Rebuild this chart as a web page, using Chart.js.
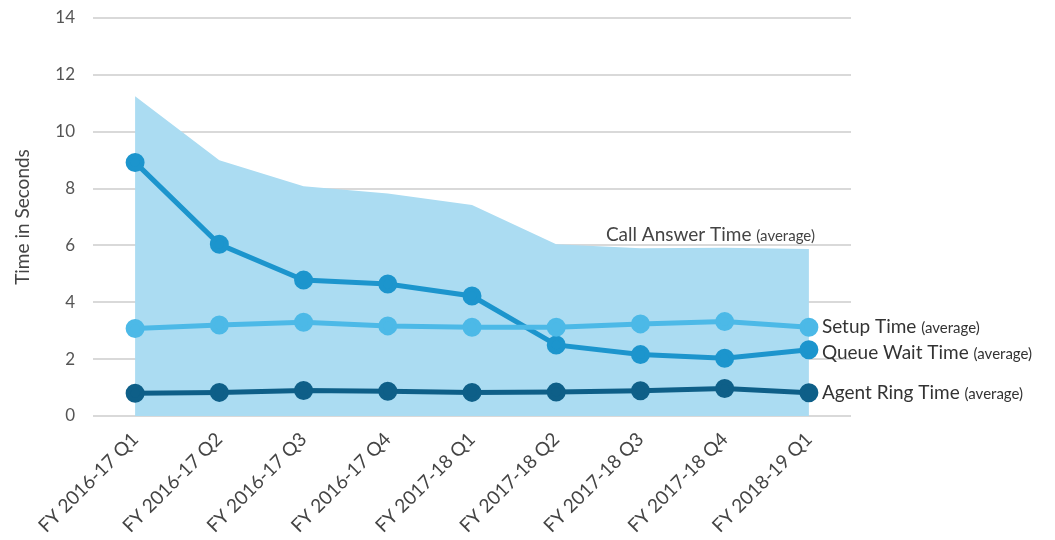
<!DOCTYPE html>
<html>
<head>
<meta charset="utf-8">
<script src="https://cdn.jsdelivr.net/npm/chart.js@4"></script>
<style>
  html, body { margin: 0; padding: 0; background: #fff; }
  #wrap { width: 1055px; height: 540px; }
</style>
</head>
<body>
<div id="wrap"><canvas id="myChart" width="1055" height="540"></canvas></div>
<script>
// quarters on the x axis
const quarters = ['FY 2016-17 Q1', 'FY 2016-17 Q2', 'FY 2016-17 Q3', 'FY 2016-17 Q4',
  'FY 2017-18 Q1', 'FY 2017-18 Q2', 'FY 2017-18 Q3', 'FY 2017-18 Q4', 'FY 2018-19 Q1']
// seconds
const callAnswer = [11.25, 9.0, 8.08, 7.83, 7.42, 6.04, 5.9, 5.92, 5.87]
const queueWait = [8.92, 6.04, 4.78, 4.64, 4.22, 2.5, 2.16, 2.03, 2.33]
const setupTime = [3.08, 3.2, 3.3, 3.17, 3.12, 3.12, 3.24, 3.32, 3.12]
const agentRing = [0.8, 0.83, 0.9, 0.87, 0.83, 0.84, 0.89, 0.97, 0.82]
const yTicks = [0, 2, 4, 6, 8, 10, 12, 14]

const FONT = 'Lato, "Open Sans", sans-serif'

// labels next to the lines
const endLabels = {
  id: 'endLabels',
  afterDatasetsDraw(chart) {
    const ctx = chart.ctx
    ctx.save()
    ctx.textBaseline = 'middle'
    ctx.fillStyle = '#333'
    function widthOf(txt) {
      ctx.font = '19px ' + FONT
      const a = ctx.measureText(txt + ' ').width
      ctx.font = '15px ' + FONT
      return a + ctx.measureText('(average)').width
    }
    function label(txt, x, y) {
      ctx.font = '19px ' + FONT
      ctx.fillText(txt, x, y)
      const w = ctx.measureText(txt + ' ').width
      ctx.font = '15px ' + FONT
      ctx.fillText('(average)', x + w, y + 1)
    }
    const last = quarters.length - 1
    const setupPt = chart.getDatasetMeta(1).data[last]
    const queuePt = chart.getDatasetMeta(2).data[last]
    const agentPt = chart.getDatasetMeta(0).data[last]
    label('Setup Time', setupPt.x + 13, setupPt.y)
    label('Queue Wait Time', queuePt.x + 13, queuePt.y + 3)
    label('Agent Ring Time', agentPt.x + 13, agentPt.y)
    const caPt = chart.getDatasetMeta(3).data[last]
    ctx.fillStyle = '#444'
    label('Call Answer Time', caPt.x + 6 - widthOf('Call Answer Time'), caPt.y - 14)
    ctx.restore()
  }
}

function lineSet(label, data, color) {
  return {
    label: label,
    data: data,
    borderColor: color,
    backgroundColor: color,
    pointBackgroundColor: color,
    pointBorderColor: color,
    borderWidth: 5,
    pointRadius: 7,
    tension: 0,
    fill: false
  }
}

new Chart('myChart', {
  type: 'line',
  data: {
    labels: quarters,
    datasets: [
      lineSet('Agent Ring Time', agentRing, '#0e5f88'),
      lineSet('Setup Time', setupTime, '#4cb9e7'),
      lineSet('Queue Wait Time', queueWait, '#1c95cd'),
      {
        label: 'Call Answer Time',
        data: callAnswer,
        backgroundColor: '#abdcf2',
        borderWidth: 0,
        pointRadius: 0,
        fill: 'origin',
        tension: 0
      }
    ]
  },
  options: {
    responsive: false,
    animation: false,
    layout: { padding: { top: 18, right: 204, left: 0, bottom: 0 } },
    plugins: { legend: { display: false }, tooltip: { enabled: false } },
    scales: {
      x: {
        offset: true,
        grid: { display: false },
        border: { display: false },
        ticks: {
          color: '#444',
          font: { family: FONT, size: 19 },
          maxRotation: 45,
          minRotation: 45,
          padding: 4
        },
        afterFit(scale) { scale.height = 124 }
      },
      y: {
        min: 0,
        max: 14,
        afterBuildTicks(scale) { scale.ticks = yTicks.map(v => ({ value: v })) },
        grid: { color: '#d9d9d9', lineWidth: 2, drawTicks: false },
        border: { display: false },
        ticks: {
          color: '#555',
          font: { family: FONT, size: 17 },
          padding: 18
        },
        title: {
          display: true,
          text: 'Time in Seconds',
          color: '#444',
          font: { family: FONT, size: 19 },
          padding: { top: 11, bottom: 10 }
        },
        afterFit(scale) {
          scale.width = 93
          scale.paddingTop = 0
          scale.paddingBottom = 0
        }
      }
    }
  },
  plugins: [endLabels]
})
</script>
</body>
</html>
